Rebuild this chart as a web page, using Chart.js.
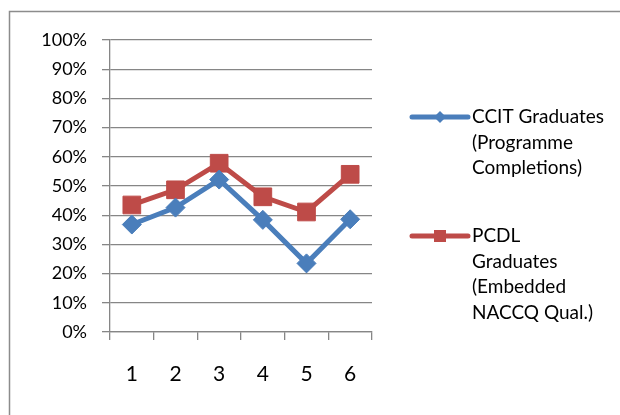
<!DOCTYPE html>
<html>
<head>
<meta charset="utf-8">
<script src="https://cdn.jsdelivr.net/npm/chart.js@4/dist/chart.umd.min.js"></script>
<style>
  html, body { margin: 0; padding: 0; background: #ffffff; }
  #wrap { position: relative; width: 620px; height: 415px; }
  canvas { display: block; }
</style>
</head>
<body>
<div id="wrap"><canvas id="c" width="620" height="415"></canvas></div>
<script>
// Graduation rates by intake, shown as percentages
const categories = ['1', '2', '3', '4', '5', '6'];
const ccitGraduates = [36.8, 42.6, 52.2, 38.4, 23.5, 38.6];
const pcdlGraduates = [43.5, 48.7, 57.8, 46.3, 41.1, 54.0];
const ccitLabel = ['CCIT Graduates', '(Programme', 'Completions)'];
const pcdlLabel = ['PCDL', 'Graduates', '(Embedded', 'NACCQ Qual.)'];
const yTicks = [0, 10, 20, 30, 40, 50, 60, 70, 80, 90, 100];

const FONT = 'Lato, "Open Sans", sans-serif';
const BLUE = '#4a7ebb';
const RED = '#be4b48';
const GRID = '#868686';

// Outer frame of the chart object
const framePlugin = {
  id: 'frame',
  beforeDraw(chart) {
    const ctx = chart.ctx;
    ctx.save();
    ctx.fillStyle = '#ffffff';
    ctx.fillRect(0, 0, chart.width, chart.height);
    ctx.strokeStyle = '#8c8c8c';
    ctx.lineWidth = 1.5;
    ctx.beginPath();
    ctx.moveTo(9.5, chart.height + 5);
    ctx.lineTo(9.5, 11.5);
    ctx.lineTo(chart.width + 5, 11.5);
    ctx.stroke();
    ctx.restore();
  }
};

// Legend on the right with wrapped multi-line entries
const sideLegend = {
  id: 'sideLegend',
  afterDraw(chart) {
    const ctx = chart.ctx;
    const x0 = 412, x1 = 468, tx = 472, lh = 25.5;
    const starts = [117, 236];
    ctx.save();
    chart.data.datasets.forEach((ds, i) => {
      const y = starts[i];
      ctx.strokeStyle = ds.borderColor;
      ctx.lineWidth = 5;
      ctx.lineCap = 'round';
      ctx.beginPath();
      ctx.moveTo(x0, y);
      ctx.lineTo(x1, y);
      ctx.stroke();
      ctx.fillStyle = ds.borderColor;
      const mx = (x0 + x1) / 2;
      ctx.beginPath();
      if (ds.pointStyle === 'rectRot') {
        ctx.moveTo(mx - 6, y);
        ctx.lineTo(mx, y - 6);
        ctx.lineTo(mx + 6, y);
        ctx.lineTo(mx, y + 6);
        ctx.closePath();
      } else {
        ctx.rect(mx - 6, y - 6, 12, 12);
      }
      ctx.fill();
      ctx.fillStyle = '#000000';
      ctx.font = '19px ' + FONT;
      ctx.textAlign = 'left';
      ctx.textBaseline = 'middle';
      ds.label.forEach((line, k) => {
        ctx.fillText(line, tx, y + k * lh);
      });
    });
    ctx.restore();
  }
};

new Chart(document.getElementById('c'), {
  type: 'line',
  data: {
    labels: categories,
    datasets: [
      {
        label: ccitLabel,
        data: ccitGraduates,
        borderColor: BLUE,
        backgroundColor: BLUE,
        borderWidth: 5,
        pointStyle: 'rectRot',
        pointRadius: 9.5,
        pointBorderWidth: 1,
        pointBackgroundColor: BLUE,
        pointBorderColor: BLUE,
        tension: 0,
        order: 1
      },
      {
        label: pcdlLabel,
        data: pcdlGraduates,
        borderColor: RED,
        backgroundColor: RED,
        borderWidth: 5,
        pointStyle: 'rect',
        pointRadius: 12.5,
        pointBorderWidth: 1,
        pointBackgroundColor: RED,
        pointBorderColor: RED,
        tension: 0,
        order: 2
      }
    ]
  },
  options: {
    responsive: false,
    animation: false,
    devicePixelRatio: 1,
    layout: { padding: { top: 40, right: 248, bottom: 0, left: 0 } },
    plugins: {
      legend: { display: false },
      tooltip: { enabled: false },
      title: { display: false }
    },
    scales: {
      x: {
        type: 'category',
        offset: true,
        grid: {
          offset: true,
          drawOnChartArea: false,
          drawTicks: true,
          tickLength: 8,
          color: GRID,
          lineWidth: 1.3
        },
        border: { display: true, color: GRID, width: 1.3 },
        ticks: {
          color: '#000000',
          font: { family: FONT, size: 21 },
          padding: 22,
          maxRotation: 0
        },
        afterFit(scale) { scale.height = 83; }
      },
      y: {
        min: 0,
        max: 100,
        afterBuildTicks(scale) {
          scale.ticks = yTicks.map(v => ({ value: v }));
        },
        grid: {
          color: GRID,
          lineWidth: 1.3,
          drawTicks: true,
          tickLength: 8
        },
        border: { display: true, color: GRID, width: 1.3 },
        ticks: {
          color: '#000000',
          font: { family: FONT, size: 18 },
          padding: 15,
          callback: v => v + '%'
        },
        afterFit(scale) { scale.width = 110; }
      }
    }
  },
  plugins: [framePlugin, sideLegend]
});
</script>
</body>
</html>
